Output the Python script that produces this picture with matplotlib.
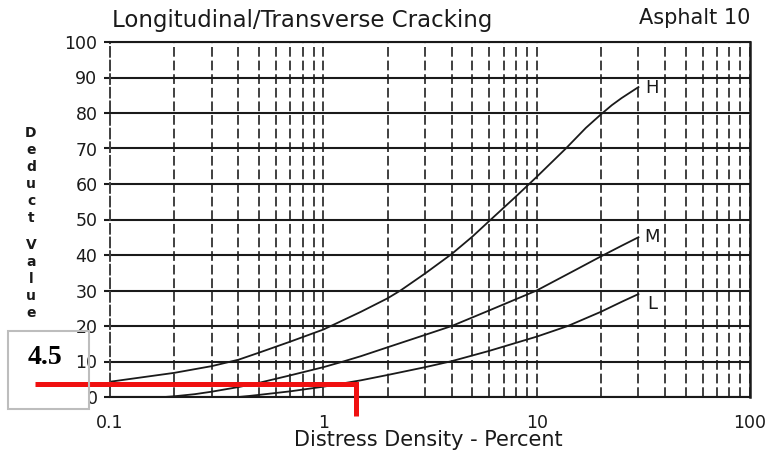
import matplotlib
matplotlib.use("Agg")
import matplotlib.pyplot as plt
from matplotlib.ticker import LogLocator, FixedLocator, NullFormatter
from matplotlib.patches import Rectangle

# ---- data ----
h_x = [0.1, 0.2, 0.3, 0.4, 0.5, 0.7, 1.0, 1.5, 2.0, 2.3, 3.0, 4.0, 5.0, 6.0, 8.0, 10.0, 13.7, 17.0, 20.0, 22.5, 25.0, 30.0]
h_y = [4.3, 6.8, 8.7, 10.5, 12.5, 15.6, 19.0, 24.0, 27.8, 30.0, 34.8, 40.3, 45.2, 49.6, 56.5, 62.0, 70.0, 75.8, 79.6, 82.2, 84.2, 87.3]

m_x = [0.18, 0.2, 0.25, 0.3, 0.4, 0.5, 0.7, 1.0, 1.24, 1.5, 2.0, 3.0, 4.0, 6.0, 10.0, 15.0, 20.0, 25.0, 30.0]
m_y = [0.0, 0.2, 0.8, 1.5, 2.8, 4.0, 6.1, 8.4, 10.0, 11.5, 14.0, 17.5, 20.0, 24.4, 30.0, 35.6, 39.6, 42.6, 45.0]

l_x = [0.4, 0.45, 0.5, 0.7, 1.0, 1.5, 2.0, 3.0, 4.0, 6.0, 10.0, 14.0, 20.0, 25.0, 30.0]
l_y = [0.0, 0.3, 0.6, 1.6, 2.9, 4.7, 6.2, 8.4, 10.1, 13.0, 17.0, 20.0, 24.0, 26.8, 29.0]

curve_labels = ["H", "M", "L"]

y_ticks = [0, 10, 20, 30, 40, 50, 60, 70, 80, 90, 100]
x_ticks = [0.1, 1, 10, 100]
x_tick_labels = ["0.1", "1", "10", "100"]

red_value = 3.8      # deduct value marked by the red line
red_density = 1.42   # density marked by the red line
box_text = "4.5"

title = "Longitudinal/Transverse Cracking"
subtitle = "Asphalt 10"
xlabel = "Distress Density - Percent"
ylabel = "Deduct Value"

# ---- figure ----
W, H = 767, 455
fig = plt.figure(figsize=(W / 100, H / 100), dpi=100)
ax = fig.add_axes([110 / W, 1 - 397 / H, (750 - 110) / W, (397 - 42) / H])

ax.set_xscale("log")
ax.set_xlim(0.1, 100)
ax.set_ylim(0, 100)

ink = "#1a1a1a"

# grid
ax.xaxis.set_major_locator(FixedLocator(x_ticks))
ax.xaxis.set_minor_locator(LogLocator(base=10, subs=range(2, 10)))
ax.xaxis.set_minor_formatter(NullFormatter())
ax.set_xticks(x_ticks)
ax.set_xticklabels(x_tick_labels)
ax.set_yticks(y_ticks)
ax.grid(axis="y", color=ink, linewidth=1.5, linestyle="-")
ax.grid(axis="x", which="both", color="#404040", linewidth=1.4, linestyle=(0, (5, 2)))
ax.set_axisbelow(True)

for side in ["top", "bottom"]:
    ax.spines[side].set_color(ink)
    ax.spines[side].set_linewidth(1.5)
ax.spines["right"].set_color(ink)
ax.spines["right"].set_linewidth(1.8)
ax.spines["left"].set_color("#404040")
ax.spines["left"].set_linewidth(1.4)
ax.spines["left"].set_linestyle((0, (5, 2)))

ax.tick_params(axis="y", direction="out", length=4, width=1.5, color=ink,
               pad=5, labelsize=12.5, labelcolor=ink)
ax.tick_params(axis="x", which="both", length=0, pad=12, labelsize=12.5, labelcolor=ink)

# curves
for xs, ys, lab, dy in [(h_x, h_y, "H", -1), (m_x, m_y, "M", 0), (l_x, l_y, "L", -7)]:
    ax.plot(xs, ys, color=ink, linewidth=1.3)
    ax.annotate(lab, (xs[-1], ys[-1]), xytext=(10, dy), textcoords="offset points",
                ha="center", va="center", fontsize=13, color=ink)

# red marker line
ax.plot([0.0443, red_density, red_density], [red_value, red_value, -5.3],
        color="#f01010", linewidth=3.6, solid_joinstyle="miter",
        solid_capstyle="butt", clip_on=False, zorder=5)

# texts
fig.text(112 / W, 1 - 20 / H, title, ha="left", va="center", fontsize=16.5, color=ink)
fig.text(750 / W, 1 - 18 / H, subtitle, ha="right", va="center", fontsize=15, color=ink)
fig.text(428 / W, 1 - 440 / H, xlabel, ha="center", va="center", fontsize=15, color=ink)

letter_y = [133, 150, 167, 184, 201, 218, 245, 262, 279, 296, 313]
letters = [c for c in ylabel if c != " "]
for c, yp in zip(letters, letter_y):
    fig.text(31 / W, 1 - yp / H, c, ha="center", va="center", fontsize=10,
             fontweight="bold", color=ink)

# grey box with value
fig.add_artist(Rectangle((8 / W, 1 - 409 / H), 81 / W, 78 / H, transform=fig.transFigure,
                         fill=False, edgecolor="#bdbdbd", linewidth=1.5))
fig.text(45 / W, 1 - 358 / H, box_text, ha="center", va="center", fontsize=20,
         fontweight="bold", family="Liberation Serif", color="black")

fig.savefig("out.png", dpi=100)
